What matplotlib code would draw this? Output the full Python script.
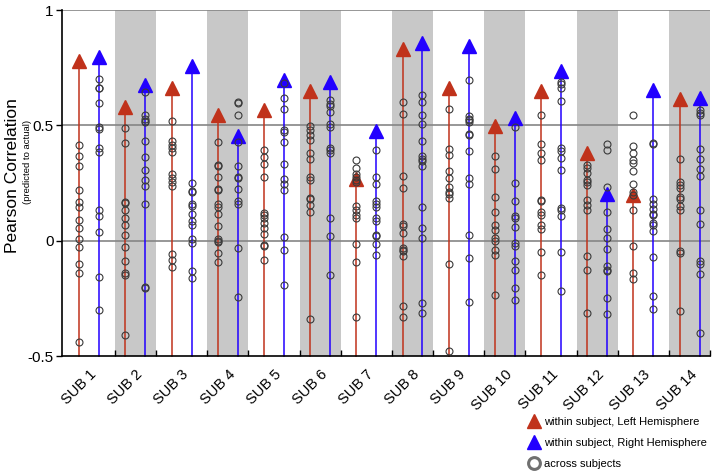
import numpy as np
import matplotlib
matplotlib.use("Agg")
from matplotlib import pyplot as plt
from matplotlib.lines import Line2D

plt.rcParams["font.family"] = ["Liberation Sans", "DejaVu Sans"]

# subjects
subjects = ["SUB %d" % i for i in range(1, 15)]

# within subject correlation (triangles)
within_left = [0.78, 0.58, 0.66, 0.545, 0.565, 0.647, 0.267, 0.833, 0.661, 0.497, 0.651, 0.378, 0.197, 0.615]
within_right = [0.795, 0.675, 0.759, 0.453, 0.695, 0.69, 0.474, 0.856, 0.842, 0.532, 0.734, 0.201, 0.654, 0.619]

# across subjects correlation (circles), left hemisphere
across_left = [
    [0.414, 0.366, 0.324, 0.220, 0.167, 0.144, 0.089, 0.055, 0.006, -0.027, -0.099, -0.141, -0.441],
    [0.49, 0.424, 0.169, 0.164, 0.133, 0.099, 0.069, 0.023, -0.026, -0.089, -0.138, -0.147, -0.411],
    [0.517, 0.434, 0.414, 0.402, 0.385, 0.287, 0.272, 0.256, 0.237, -0.057, -0.083, -0.115],
    [0.428, 0.330, 0.322, 0.276, 0.223, 0.218, 0.158, 0.147, 0.115, 0.063, 0.009, 0.0, -0.006, -0.052, -0.092],
    [0.392, 0.361, 0.332, 0.274, 0.119, 0.112, 0.098, 0.076, 0.055, 0.029, -0.017, -0.024, -0.082],
    [0.497, 0.478, 0.457, 0.435, 0.378, 0.352, 0.274, 0.264, 0.187, 0.181, 0.155, 0.124, -0.341],
    [0.348, 0.313, 0.290, 0.277, 0.263, 0.253, 0.149, 0.131, 0.112, 0.098, -0.014, -0.093, -0.330],
    [0.601, 0.550, 0.280, 0.230, 0.073, 0.062, 0.034, -0.032, -0.039, -0.046, -0.065, -0.283, -0.330],
    [0.573, 0.399, 0.371, 0.303, 0.273, 0.234, 0.213, 0.201, 0.187, -0.101, -0.480],
    [0.368, 0.310, 0.190, 0.126, 0.069, 0.046, 0.011, 0.0, -0.04, -0.06, -0.236],
    [0.547, 0.420, 0.382, 0.348, 0.177, 0.170, 0.126, 0.112, 0.069, 0.052, -0.05, -0.147],
    [0.328, 0.313, 0.292, 0.263, 0.253, 0.241, 0.177, 0.155, 0.134, -0.065, -0.125, -0.312],
    [0.547, 0.412, 0.382, 0.348, 0.336, 0.302, 0.246, 0.210, 0.198, 0.135, -0.022, -0.139, -0.165],
    [0.353, 0.256, 0.241, 0.227, 0.188, 0.181, 0.151, 0.132, -0.046, -0.055, -0.305],
]

# across subjects correlation (circles), right hemisphere
across_right = [
    [0.702, 0.664, 0.66, 0.597, 0.491, 0.484, 0.401, 0.383, 0.133, 0.107, 0.039, -0.156, -0.300],
    [0.644, 0.543, 0.527, 0.519, 0.513, 0.434, 0.363, 0.305, 0.261, 0.238, 0.157, -0.199, -0.205],
    [0.249, 0.217, 0.213, 0.159, 0.152, 0.115, 0.086, 0.069, 0.006, -0.011, -0.132, -0.161],
    [0.603, 0.595, 0.547, 0.428, 0.323, 0.277, 0.270, 0.226, 0.170, 0.161, -0.032, -0.243],
    [0.684, 0.618, 0.569, 0.478, 0.470, 0.428, 0.332, 0.269, 0.246, 0.218, 0.014, -0.039, -0.19],
    [0.611, 0.591, 0.583, 0.560, 0.506, 0.494, 0.402, 0.391, 0.382, 0.098, 0.02, -0.147],
    [0.391, 0.276, 0.247, 0.174, 0.161, 0.148, 0.098, 0.086, 0.026, 0.019, -0.014, -0.063],
    [0.632, 0.603, 0.543, 0.504, 0.431, 0.368, 0.356, 0.345, 0.322, 0.144, 0.055, 0.011, -0.272, -0.312],
    [0.695, 0.539, 0.529, 0.522, 0.514, 0.464, 0.457, 0.389, 0.270, 0.246, 0.023, -0.075, -0.264],
    [0.494, 0.249, 0.174, 0.109, 0.098, 0.059, -0.009, -0.023, -0.086, -0.126, -0.204, -0.257],
    [0.690, 0.678, 0.662, 0.605, 0.402, 0.388, 0.359, 0.306, 0.141, 0.134, 0.109, -0.049, -0.216],
    [0.421, 0.392, 0.233, 0.124, 0.050, 0.011, -0.034, -0.111, -0.125, -0.132, -0.247, -0.319],
    [0.422, 0.418, 0.180, 0.159, 0.138, 0.115, 0.112, 0.076, 0.069, 0.040, -0.070, -0.241, -0.295],
    [0.565, 0.555, 0.543, 0.399, 0.356, 0.310, 0.282, 0.134, 0.073, -0.089, -0.101, -0.144, -0.399],
]

red = "#C0321B"
blue = "#2200FF"
band_gray = "#C8C8C8"
ymin, ymax = -0.5, 1.0
off = 0.216
half = 0.443

fig = plt.figure(figsize=(7.13, 4.75), dpi=100)
ax = fig.add_axes([0.0870, 0.2505, 0.9088, 0.7284])

x = np.arange(1, len(subjects) + 1)

# shaded bands for even subjects
edges = []
for k in x:
    if k % 2 == 0:
        ax.axvspan(k - half, k + half, color=band_gray, lw=0, zorder=0)
        edges += [k - half, k + half]

# grid lines
for yv in [0, 0.5, 1.0]:
    ax.axhline(yv, color="#858585", lw=1.2, zorder=1)

for i, k in enumerate(x):
    for xx, val, col, pts in [(k - off, within_left[i], red, across_left[i]),
                              (k + off, within_right[i], blue, across_right[i])]:
        ax.plot([xx, xx], [ymin, val], color=col, lw=1.1, zorder=2, clip_on=False)
        ax.plot([xx], [val], marker="^", ms=10, color=col, mec=col, zorder=3, clip_on=False)
        ax.plot(np.full(len(pts), xx), pts, ls="none", marker="o", ms=5.0,
                mfc="none", mec="#3a3a3a", mew=0.8, zorder=4)

ax.set_xlim(0.41, 14.41)
ax.set_ylim(ymin, ymax)

ax.set_xticks(x)
ax.set_xticklabels(subjects, rotation=45, ha="right", va="top",
                   rotation_mode="anchor", fontsize=10.5)
ax.tick_params(axis="x", which="major", length=0, pad=8)
ax.set_xticks(edges, minor=True)
ax.tick_params(axis="x", which="minor", direction="in", length=4, width=1)

ax.set_yticks([-0.5, 0, 0.5, 1])
ax.set_yticklabels(["-0.5", "0", "0.5", "1"], fontsize=11)
ax.tick_params(axis="y", direction="out", length=4, width=1, pad=2)

for s in ["top", "right"]:
    ax.spines[s].set_visible(False)
for s in ["left", "bottom"]:
    ax.spines[s].set_linewidth(1.2)

fig.text(0.017, 0.63, "Pearson Correlation", rotation=90, fontsize=12.5,
         ha="center", va="center")
fig.text(0.038, 0.66, "(predicted to actual)", rotation=90, fontsize=6.8,
         ha="center", va="center")

handles = [
    Line2D([], [], ls="none", marker="^", ms=9.5, color=red),
    Line2D([], [], ls="none", marker="^", ms=9.5, color=blue),
    Line2D([], [], ls="none", marker="o", ms=8.5, mfc="none", mec="#707070", mew=2.2),
]
labels = ["within subject, Left Hemisphere", "within subject, Right Hemisphere",
          "across subjects"]
fig.legend(handles, labels, loc="upper left", bbox_to_anchor=(0.7405, 0.122),
           bbox_transform=fig.transFigure, frameon=False, fontsize=8,
           handlelength=1.0, handletextpad=0.4, labelspacing=1.0,
           borderpad=0, borderaxespad=0)

fig.savefig("out.png", dpi=100)
